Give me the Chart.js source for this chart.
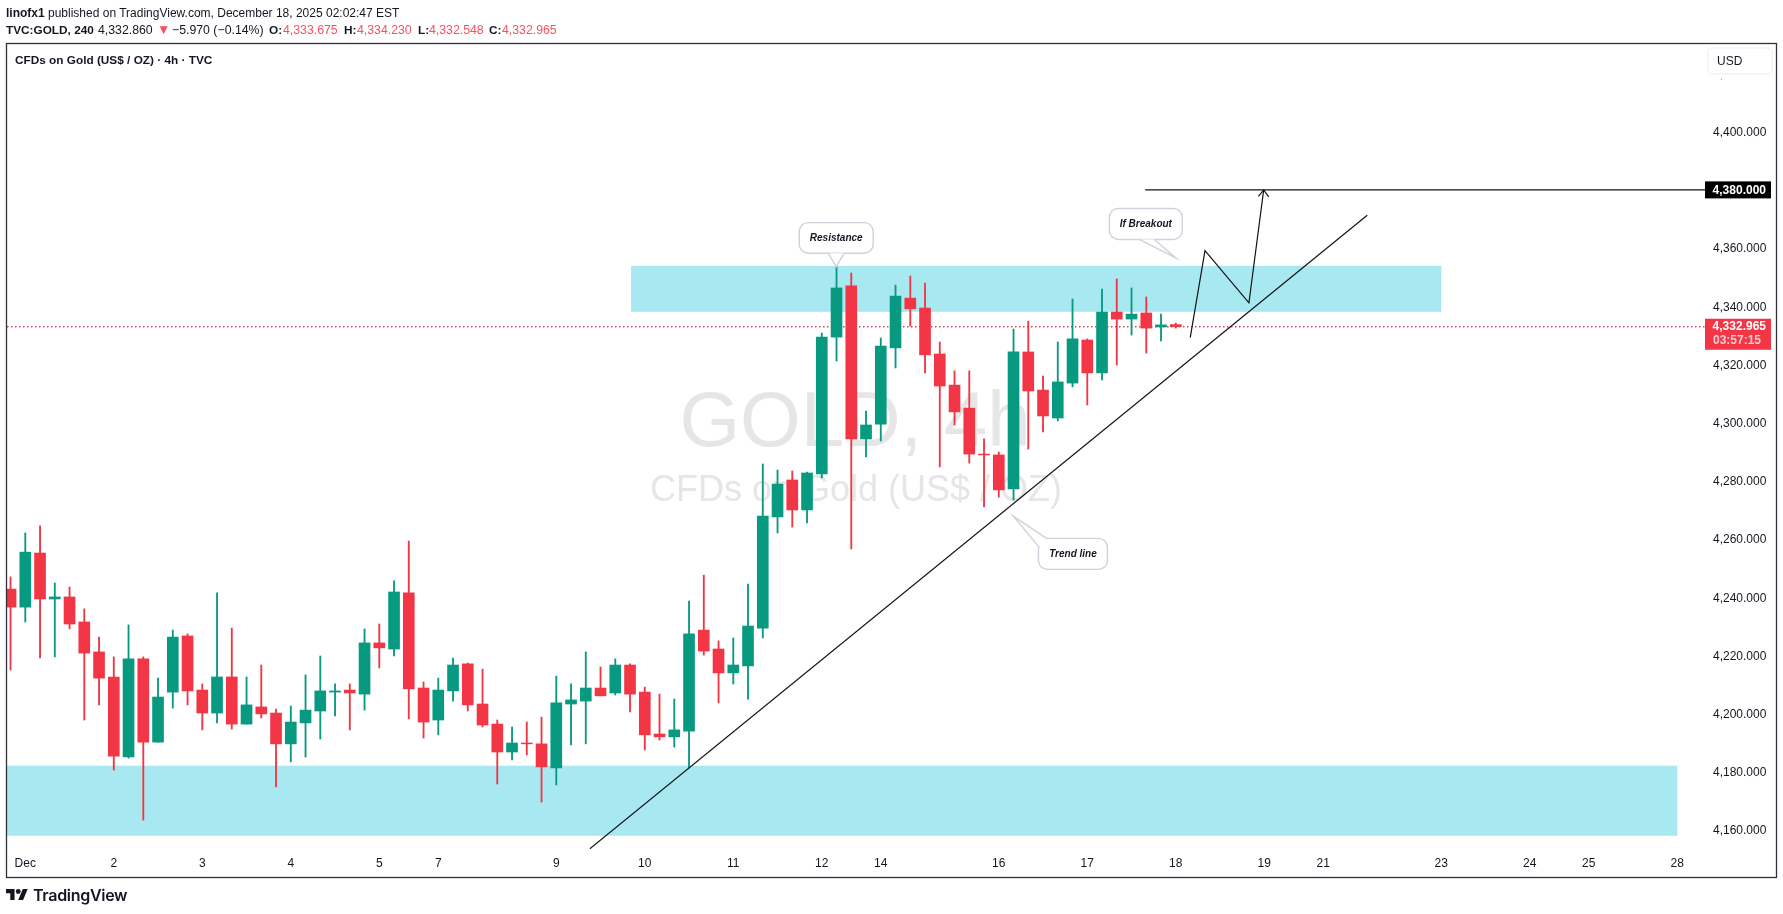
<!DOCTYPE html>
<html>
<head>
<meta charset="utf-8">
<style>
  html, body { margin: 0; padding: 0; background: #fff; }
  #page { position: relative; width: 1783px; height: 914px; overflow: hidden; font-family: "Liberation Sans", sans-serif; color: #131722; }
  canvas { position: absolute; left: 0; top: 0; }
  .line { position: absolute; left: 6px; font-size: 12px; white-space: pre; line-height: 16px; }
  .line b { font-weight: 700; }
  .seg { position: absolute; top: 22px; font-size: 12.3px; line-height: 16px; white-space: pre; }
  .seg.b { font-weight: 700; font-size: 11.8px; }
  .seg.r { color: #f7525f; }
  #logo { position: absolute; left: 6px; top: 889px; }
  #brand { position: absolute; left: 33px; top: 884px; font: 600 16px/22px Inter, sans-serif; letter-spacing: -0.3px; color: #131722; }
</style>
</head>
<body>
<div id="page">
  <canvas id="chart" width="1783" height="914"></canvas>
  <div class="line" style="top:5px"><b>linofx1</b> published on TradingView.com, December 18, 2025 02:02:47 EST</div>
  <span class="seg b" style="left:6px">TVC:GOLD, 240</span>
  <span class="seg" style="left:98px">4,332.860</span>
  <span class="seg r" style="left:157px;font-size:13.5px">▼</span>
  <span class="seg" style="left:172px">−5.970 (−0.14%)</span>
  <span class="seg b" style="left:269px">O:</span>
  <span class="seg r" style="left:283px">4,333.675</span>
  <span class="seg b" style="left:344px">H:</span>
  <span class="seg r" style="left:357px">4,334.230</span>
  <span class="seg b" style="left:418px">L:</span>
  <span class="seg r" style="left:429px">4,332.548</span>
  <span class="seg b" style="left:489px">C:</span>
  <span class="seg r" style="left:502px">4,332.965</span>
  <svg id="logo" width="22" height="11" viewBox="0 4 36 18"><path fill="#131722" d="M14 22H7V11H0V4h14v18zM28 22h-8l7.5-18h8L28 22z"/><circle fill="#131722" cx="20" cy="8" r="4"/></svg>
  <div id="brand">TradingView</div>
</div>
<script src="https://cdn.jsdelivr.net/npm/chart.js@4/dist/chart.umd.min.js"></script>
<script>
const opens = [4242.8,4236.6,4255.2,4239.4,4240.1,4231.5,4221.2,4212.6,4185.1,4218.8,4190.2,4207.4,4226.7,4208.1,4200.2,4212.6,4196.4,4202.3,4200.2,4189.6,
  4196.8,4200.9,4207.4,4208.1,4206.7,4224.3,4222.2,4241.5,4208.8,4197.8,4207.8,4217.1,4203.3,4196.4,4186.8,4189.9,4189.6,4181.3,4203.3,4204.3,
  4208.8,4207.1,4216.7,4207.4,4193.0,4192.0,4194.0,4228.7,4222.2,4214.0,4216.4,4229.4,4267.6,4280.3,4270.0,4282.4,4329.4,4347.0,4294.4,4299.5,
  4325.7,4342.8,4339.4,4323.6,4312.9,4305.0,4289.2,4288.9,4277.2,4324.3,4311.2,4301.6,4313.6,4328.4,4317.1,4338.0,4335.6,4337.7,4332.9,4333.7];
const highs = [4247.0,4262.1,4264.5,4244.9,4243.5,4236.0,4226.3,4219.5,4230.5,4219.5,4212.2,4228.7,4227.4,4210.2,4241.5,4229.4,4212.6,4216.7,4201.6,4202.6,
  4213.3,4219.8,4210.2,4210.2,4229.1,4230.8,4245.6,4259.3,4210.9,4212.2,4219.1,4217.4,4215.3,4197.8,4195.4,4197.1,4198.8,4212.9,4210.2,4221.2,
  4216.0,4218.8,4217.1,4209.1,4206.7,4205.0,4238.7,4247.6,4225.0,4226.0,4244.5,4285.8,4283.7,4283.4,4283.0,4330.8,4353.6,4351.4,4304.0,4329.1,
  4347.3,4350.4,4348.0,4327.7,4317.8,4317.8,4294.4,4289.9,4332.2,4334.9,4316.0,4327.7,4342.5,4328.8,4345.9,4349.4,4346.3,4343.2,4337.3,4334.2];
const lows = [4215.0,4231.5,4219.1,4219.5,4229.1,4197.8,4203.0,4180.6,4184.7,4163.4,4190.2,4201.9,4203.0,4194.4,4196.8,4194.7,4196.4,4198.5,4174.8,4183.4,
  4185.1,4191.3,4199.2,4194.4,4201.2,4215.7,4219.8,4198.2,4191.6,4192.7,4204.3,4200.9,4195.4,4175.8,4184.1,4185.8,4169.6,4175.5,4189.2,4189.6,
  4206.1,4206.4,4200.6,4187.5,4190.9,4188.5,4181.3,4220.1,4203.7,4210.2,4205.0,4226.0,4262.1,4264.1,4265.5,4281.0,4321.2,4256.6,4288.2,4293.7,
  4318.8,4333.2,4317.1,4284.8,4299.2,4286.1,4271.0,4274.4,4273.4,4290.9,4296.8,4300.6,4312.3,4306.1,4314.7,4319.8,4330.1,4323.9,4328.1,4332.5];
const closes = [4236.6,4255.5,4239.4,4240.1,4230.8,4220.8,4212.2,4185.4,4218.8,4190.2,4205.7,4226.3,4207.8,4200.2,4212.6,4196.4,4203.0,4199.9,4189.6,4197.1,
  4201.2,4207.8,4207.8,4207.1,4224.3,4222.6,4241.8,4208.5,4197.1,4208.1,4216.7,4203.0,4196.1,4186.8,4189.9,4189.6,4181.7,4203.7,4204.7,4208.8,
  4206.1,4216.7,4206.7,4192.7,4192.0,4194.4,4227.4,4221.5,4214.0,4216.7,4230.1,4267.9,4278.9,4270.0,4282.7,4329.4,4346.3,4294.4,4299.2,4326.3,
  4343.5,4339.1,4323.3,4312.6,4303.7,4289.2,4288.9,4276.9,4324.3,4310.9,4302.3,4314.0,4328.8,4317.1,4338.0,4335.6,4337.3,4332.5,4333.6,4333.0];

const dayTicks = [1,7,13,19,25,29,37,43,49,55,59,67,73,79,85,89,97,103,107,113];
const dayLabels = ['Dec','2','3','4','5','7','9','10','11','12','14','16','17','18','19','21','23','24','25','28'];
const priceTicks = [4160,4180,4200,4220,4240,4260,4280,4300,4320,4340,4360,4380,4400,4420];

const lastPrice = 4332.965;
const targetPrice = 4380;
const xMin = -0.24, xMax = 114.88;
const yMin = 4153.47, yMax = 4430.14;

// drawings, in bar index / price
const lowerZone = [-1, 113, 4158.0, 4182.1];
const upperZone = [42.07, 97, 4338.1, 4353.9];
const trendX = [39.28, 91.98];
const trendY = [4153.57, 4371.26];
const pathX = [79.98, 80.98, 83.96, 84.96];
const pathY = [4329.2, 4359.1, 4341.2, 4380];
const headX = [84.6, 84.96, 85.3];
const headY = [4377.8, 4380, 4377.6];
const targetX = [76.93, xMax];

const GREEN = '#089981', RED = '#f23645', ZONE = '#a8e9f1', INK = '#131722';
const bars = opens.map((o, i) => i);
const colors = opens.map((o, i) => closes[i] >= o ? GREEN : RED);
const toPoints = (xs, ys) => xs.map((x, i) => ({ x: x, y: ys[i] }));

function drawing(xs, ys, width) {
  return { type: 'line', data: toPoints(xs, ys), borderColor: '#131313', borderWidth: width, pointRadius: 0, tension: 0, order: 1 };
}

function callout(ctx, x, y, c) {
  const w = c.w, h = c.h, left = x(c.cx) - w / 2, top = y(c.cy) - h / 2;
  const tipX = x(c.tx), tipY = y(c.ty);
  const a = c.onCorner ? [left, top + 8] : [left + c.a, top + h];
  const b = c.onCorner ? [left + 8, top] : [left + c.b, top + h];
  ctx.fillStyle = '#fff';
  ctx.strokeStyle = '#cfd2da';
  ctx.lineWidth = 1.4;
  ctx.beginPath();
  ctx.roundRect(left, top, w, h, 9);
  ctx.fill();
  ctx.stroke();
  ctx.beginPath();
  ctx.moveTo(a[0], a[1]);
  ctx.lineTo(tipX, tipY);
  ctx.lineTo(b[0], b[1]);
  ctx.closePath();
  ctx.fill();
  ctx.beginPath();
  ctx.moveTo(a[0], a[1]);
  ctx.lineTo(tipX, tipY);
  ctx.lineTo(b[0], b[1]);
  ctx.stroke();
  ctx.fillStyle = INK;
  ctx.font = 'italic bold 10px "Liberation Sans"';
  ctx.textAlign = 'center';
  ctx.textBaseline = 'middle';
  ctx.fillText(c.text, left + w / 2, top + h / 2);
}

const callouts = [
  { text: 'Resistance', cx: 55.98, cy: 4363.5, tx: 55.98, ty: 4353.6, w: 74, h: 30.6, a: 29, b: 45 },
  { text: 'If Breakout', cx: 76.97, cy: 4368.3, tx: 79.01, ty: 4356.6, w: 73, h: 31, a: 30, b: 45 },
  { text: 'Trend line', cx: 72.03, cy: 4254.9, tx: 67.98, ty: 4267.9, w: 69, h: 31, onCorner: true }
];

const backdrop = {
  id: 'backdrop',
  beforeDatasetsDraw(chart) {
    const { ctx, chartArea: area, scales: { x, y } } = chart;
    ctx.save();
    ctx.beginPath();
    ctx.rect(area.left, area.top, area.width, area.height);
    ctx.clip();
    ctx.textAlign = 'center';
    ctx.textBaseline = 'middle';
    ctx.fillStyle = '#e6e6e6';
    ctx.font = '78px "Liberation Sans"';
    ctx.fillText('GOLD, 4h', 855, 424);
    ctx.font = '36px "Liberation Sans"';
    ctx.fillText('CFDs on Gold (US$ / OZ)', 856, 491);
    ctx.fillStyle = ZONE;
    [lowerZone, upperZone].forEach(z => {
      ctx.fillRect(x.getPixelForValue(z[0]), y.getPixelForValue(z[3]),
        x.getPixelForValue(z[1]) - x.getPixelForValue(z[0]), y.getPixelForValue(z[2]) - y.getPixelForValue(z[3]));
    });
    ctx.restore();
  }
};

const overlay = {
  id: 'overlay',
  afterDraw(chart) {
    const { ctx, scales: { x, y } } = chart;
    ctx.save();
    callouts.forEach(c => callout(ctx, v => x.getPixelForValue(v), v => y.getPixelForValue(v), c));

    // chart title
    ctx.textAlign = 'left';
    ctx.textBaseline = 'middle';
    ctx.fillStyle = INK;
    ctx.font = 'bold 11.8px "Liberation Sans"';
    ctx.fillText('CFDs on Gold (US$ / OZ) · 4h · TVC', 15, 61);

    // USD button covers the top tick, only the comma tail stays
    ctx.fillStyle = '#fff';
    ctx.fillRect(1706, 46, 69, 32.8);
    ctx.strokeStyle = '#f0f3fa';
    ctx.lineWidth = 1.5;
    ctx.beginPath();
    ctx.roundRect(1708, 48, 64, 26, 4);
    ctx.stroke();
    ctx.fillStyle = INK;
    ctx.font = '12px "Liberation Sans"';
    ctx.fillText('USD', 1717, 62);

    // price tags
    const tagY = y.getPixelForValue(targetPrice);
    ctx.fillStyle = '#000';
    ctx.fillRect(1705, tagY - 8.5, 66, 17);
    ctx.fillStyle = '#fff';
    ctx.textAlign = 'right';
    ctx.font = 'bold 12px "Liberation Sans"';
    ctx.fillText('4,380.000', 1766, tagY + 0.5);

    const lastY = y.getPixelForValue(lastPrice);
    ctx.fillStyle = RED;
    ctx.fillRect(1705, lastY - 8, 66, 31);
    ctx.fillStyle = '#fff';
    ctx.fillText('4,332.965', 1766, lastY - 0.5);
    ctx.fillStyle = '#fcc8cd';
    ctx.textAlign = 'left';
    ctx.fillText('03:57:15', 1713, lastY + 14);

    // frame
    ctx.strokeStyle = '#2f323c';
    ctx.lineWidth = 1.3;
    ctx.strokeRect(6.5, 43.5, 1770, 834);
    ctx.restore();
  }
};

new Chart(document.getElementById('chart').getContext('2d'), {
  type: 'bar',
  data: {
    datasets: [
      { type: 'line', data: toPoints([xMin, xMax], [lastPrice, lastPrice]), borderColor: RED, borderWidth: 1.3, borderDash: [1.5, 2.5], pointRadius: 0, order: 5 },
      { data: bars.map(i => ({ x: i, y: [lows[i], highs[i]] })), backgroundColor: colors, barThickness: 1.2, grouped: false, order: 4 },
      { data: bars.map(i => ({ x: i, y: [opens[i], closes[i]] })), backgroundColor: colors, barThickness: 11, grouped: false, order: 3 },
      drawing(trendX, trendY, 1.2),
      drawing(pathX, pathY, 1.2),
      drawing(headX, headY, 1.2),
      drawing(targetX, [targetPrice, targetPrice], 1.4)
    ]
  },
  options: {
    responsive: false,
    devicePixelRatio: 1,
    animation: false,
    events: [],
    layout: { padding: { left: 7, top: 44, right: 7, bottom: 36.5 } },
    plugins: { legend: { display: false }, tooltip: { enabled: false } },
    scales: {
      x: {
        type: 'linear',
        offset: false,
        min: xMin,
        max: xMax,
        grid: { display: false, drawTicks: false },
        border: { display: false },
        afterBuildTicks: axis => { axis.ticks = dayTicks.map(v => ({ value: v })); },
        afterFit: axis => { axis.height = 28.5; },
        ticks: {
          autoSkip: false,
          maxRotation: 0,
          minRotation: 0,
          padding: 7,
          color: INK,
          font: { family: '"Liberation Sans"', size: 12 },
          callback: v => dayLabels[dayTicks.indexOf(v)]
        }
      },
      y: {
        position: 'right',
        min: yMin,
        max: yMax,
        grid: { display: false, drawTicks: false },
        border: { display: false },
        afterBuildTicks: axis => { axis.ticks = priceTicks.map(v => ({ value: v })); },
        afterFit: axis => { axis.width = 71; },
        ticks: {
          crossAlign: 'near',
          padding: 8,
          labelOffset: 1,
          color: INK,
          font: { family: '"Liberation Sans"', size: 12 },
          callback: v => v.toLocaleString('en-US', { minimumFractionDigits: 3 })
        }
      }
    }
  },
  plugins: [backdrop, overlay]
});
</script>
</body>
</html>
